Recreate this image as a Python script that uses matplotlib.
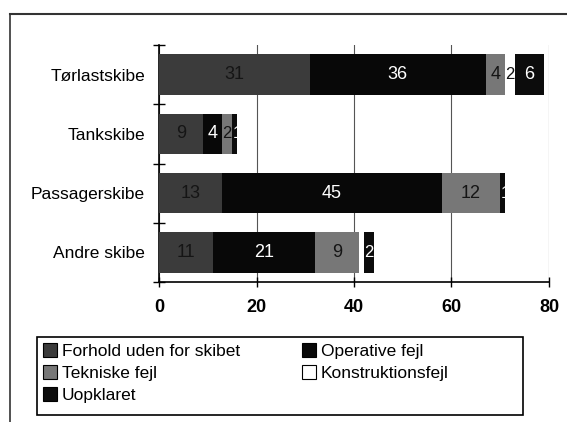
import matplotlib
matplotlib.use("Agg")
import matplotlib.pyplot as plt
import numpy as np
from matplotlib.lines import Line2D
from matplotlib.patches import Patch, Rectangle

plt.rcParams["font.family"] = ["Liberation Sans", "DejaVu Sans"]

categories = ["Tørlastskibe", "Tankskibe", "Passagerskibe", "Andre skibe"]
series = ["Forhold uden for skibet", "Operative fejl", "Tekniske fejl",
          "Konstruktionsfejl", "Uopklaret"]
forhold = [31, 9, 13, 11]
operative = [36, 4, 45, 21]
tekniske = [4, 2, 12, 9]
konstruktion = [2, 0, 0, 1]
uopklaret = [6, 1, 1, 2]
# which segments carry a number (the thin white one in "Andre skibe" does not)
shown = [[True, True, True, True, True],
         [True, True, True, False, True],
         [True, True, True, False, True],
         [True, True, True, False, True]]
xticks = [0, 20, 40, 60, 80]

values = [forhold, operative, tekniske, konstruktion, uopklaret]
colors = ["#3b3b3b", "#080808", "#777777", "#ffffff", "#0c0c0c"]
text_colors = ["#151515", "white", "#151515", "#111111", "white"]

fig = plt.figure(figsize=(5.67, 4.22), dpi=100)
ax = fig.add_axes([159 / 567, 1 - 282 / 422, 390 / 567, 237 / 422])

y = np.arange(len(categories))
left = np.zeros(len(categories))
for i, (vals, col) in enumerate(zip(values, colors)):
    vals = np.array(vals, dtype=float)
    ax.barh(y, vals, left=left, height=0.68, color=col,
            edgecolor="none", zorder=3)
    for j, v in enumerate(vals):
        if v > 0 and shown[j][i]:
            if v < 1.5:
                # very thin segment: start the number at its left edge
                ax.text(left[j] + 0.05, y[j], f"{int(v)}", ha="left",
                        va="center", fontsize=12, color=text_colors[i],
                        zorder=4)
            else:
                fs = 12 if v < 2.5 else 13
                ax.text(left[j] + v / 2, y[j], f"{int(v)}", ha="center",
                        va="center", fontsize=fs, color=text_colors[i],
                        zorder=4)
    left += vals

ax.set_xlim(0, 80)
ax.set_ylim(len(categories) - 0.5, -0.5)
ax.set_xticks(xticks)
ax.set_xticklabels([str(t) for t in xticks], fontsize=13, fontweight="bold")
ax.set_yticks(y)
ax.set_yticklabels(categories, fontsize=12.5)
ax.set_yticks(np.arange(len(categories) + 1) - 0.5, minor=True)
ax.tick_params(axis="y", which="major", length=0, pad=10)
ax.tick_params(axis="y", which="minor", length=8, direction="inout", width=1)
ax.tick_params(axis="x", length=7, direction="inout", width=1, pad=9)
ax.xaxis.grid(True, color="#555555", linewidth=0.8, zorder=0)
for s in ["top", "right"]:
    ax.spines[s].set_visible(False)
for s in ["left", "bottom"]:
    ax.spines[s].set_linewidth(1.2)
    ax.spines[s].set_color("black")

# outer frame (continues off the picture to the right and bottom)
fig.add_artist(Line2D([10 / 567, 1.0], [1 - 14 / 422] * 2, color="#333333",
                      linewidth=1.5, transform=fig.transFigure))
fig.add_artist(Line2D([10 / 567] * 2, [1 - 14 / 422, 0.0], color="#333333",
                      linewidth=1.2, transform=fig.transFigure))

# legend box drawn separately so the columns can sit where they do
fig.add_artist(Rectangle((37 / 567, 1 - 415 / 422), 486 / 567, 78 / 422,
                         facecolor="white", edgecolor="black", linewidth=1.2,
                         transform=fig.transFigure))
# legend is filled column by column, so order entries to read row-wise
order = [0, 2, 4, 1, 3]
handles = [Patch(facecolor=colors[k], edgecolor="black", linewidth=0.8)
           for k in order]
labels = [series[k] for k in order]
fig.legend(handles, labels, ncol=2, loc="upper left",
           bbox_to_anchor=(40 / 567, 1 - 340 / 422),
           fontsize=12.5, frameon=False, handlelength=0.8, handleheight=0.8,
           handletextpad=0.25, labelspacing=0.36, borderaxespad=0,
           borderpad=0.2, columnspacing=3.6)

fig.savefig("out.png", dpi=100)
